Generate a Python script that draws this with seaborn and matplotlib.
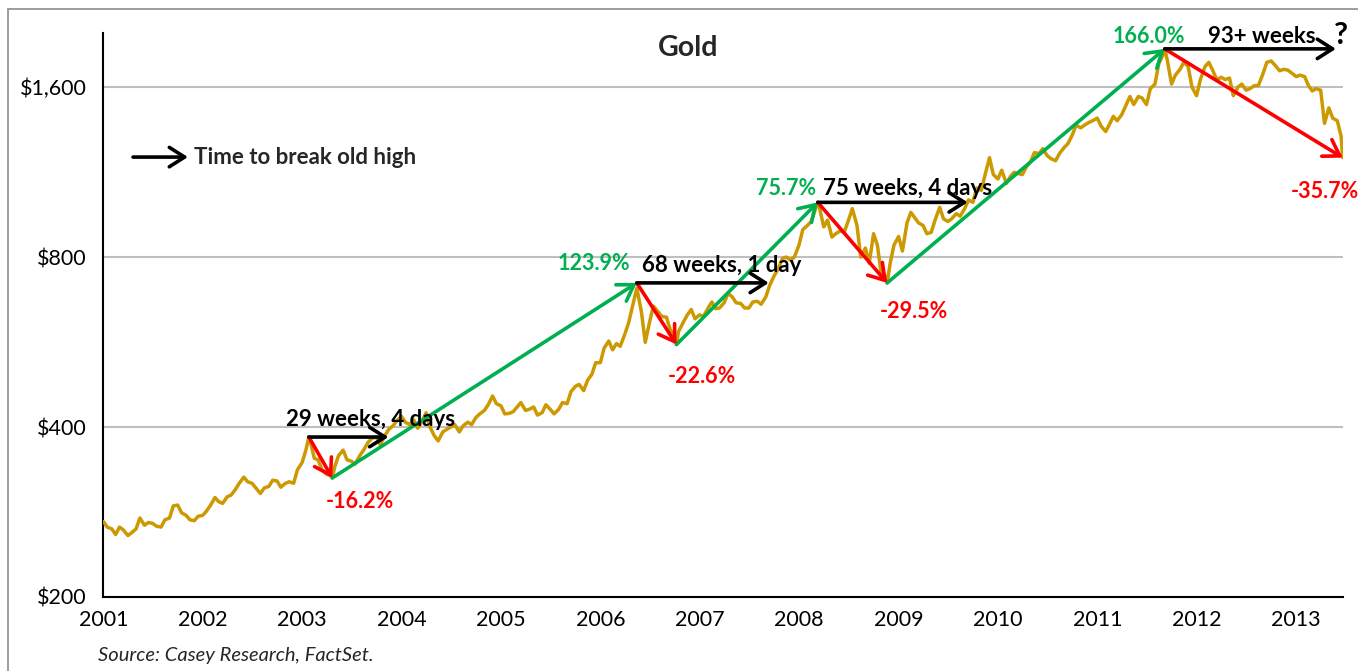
import pandas as pd
import matplotlib
matplotlib.use('Agg')
import matplotlib.pyplot as plt
import matplotlib.dates as mdates
from matplotlib.patches import Rectangle
from matplotlib.ticker import FixedLocator, NullLocator
import seaborn as sns

# Gold price, every half month (1st and 15th), Jan 2001 - Jun 2013
prices = [
    272, 266, 264, 258, 266, 263, 257, 260, 264, 276, 268, 271, 270, 267, 266, 274, 276, 290, 291, 282, 279, 274, 273, 278,
    279, 284, 292, 300, 295, 293, 301, 303, 310, 318, 326, 320, 318, 312, 305, 312, 314, 322, 321, 313, 318, 320, 318, 336,
    346, 364, 376, 352, 350, 336, 330, 328, 340, 356, 364, 350, 348, 344, 356, 364, 376, 382, 384, 372, 386, 396, 402, 410,
    418, 408, 404, 412, 398, 408, 424, 400, 386, 378, 392, 396, 400, 404, 392, 402, 408, 404, 416, 422, 428, 438, 454, 440,
    436, 422, 423, 426, 434, 442, 428, 430, 434, 420, 424, 438, 430, 422, 430, 442, 440, 462, 472, 476, 464, 484, 496, 520,
    520, 552, 568, 548, 562, 556, 584, 612, 660, 690, 640, 565, 614, 655, 640, 628, 626, 595, 575, 590, 612, 630, 646, 622,
    632, 628, 650, 666, 648, 650, 664, 690, 680, 664, 662, 650, 650, 666, 668, 660, 680, 712, 740, 760, 795, 800, 790, 800,
    840, 895, 910, 925, 972, 985, 905, 930, 868, 880, 890, 885, 930, 975, 910, 800, 830, 780, 880, 840, 730, 740, 780, 840,
    870, 820, 920, 960, 940, 920, 910, 880, 885, 930, 980, 935, 925, 935, 955, 945, 975, 1010, 1000, 1060, 1050, 1120, 1200, 1120,
    1100, 1140, 1080, 1110, 1130, 1125, 1120, 1155, 1180, 1225, 1220, 1245, 1210, 1195, 1185, 1220, 1250, 1270, 1315, 1370, 1355, 1370, 1385, 1395,
    1410, 1365, 1335, 1375, 1420, 1395, 1430, 1480, 1540, 1490, 1540, 1530, 1490, 1590, 1620, 1760, 1830, 1790, 1620, 1680, 1720, 1770, 1740, 1600,
    1545, 1650, 1740, 1770, 1710, 1650, 1665, 1650, 1660, 1545, 1600, 1620, 1580, 1590, 1610, 1610, 1690, 1770, 1780, 1750, 1710, 1720, 1715, 1695,
    1670, 1680, 1670, 1610, 1575, 1590, 1580, 1380, 1470, 1410, 1395, 1310,
]

# turning points used by the arrows
peak_dates = ['2003-01-26', '2006-05-15', '2008-03-10', '2011-09-06']
peak_prices = [384, 720, 1000, 1870]
trough_dates = ['2003-04-22', '2006-10-08', '2008-11-20', '2013-06-21']
trough_prices = [325, 560, 720, 1200]
recover_dates = ['2003-11-14', '2007-09-12', '2009-09-12', '2013-05-27']

time_labels = ['29 weeks, 4 days', '68 weeks, 1 day', '75 weeks, 4 days', '93+ weeks']
gain_labels = ['123.9%', '75.7%', '166.0%']
drop_labels = ['-16.2%', '-22.6%', '-29.5%', '-35.7%']

y_ticks = [200, 400, 800, 1600]
y_labels = ['$200', '$400', '$800', '$1,600']

GOLD = '#CC9900'
GREEN = '#00B050'
RED = '#FF0000'

sns.set_style('white')
plt.rcParams['font.family'] = ['Lato', 'DejaVu Sans']

dates = pd.date_range('2001-01-01', periods=len(prices), freq='SMS')
df = pd.DataFrame({'date': dates, 'price': prices})
keys = pd.DataFrame({'date': pd.to_datetime(peak_dates + trough_dates),
                     'price': peak_prices + trough_prices})
df = pd.concat([df, keys]).sort_values('date').reset_index(drop=True)

fig = plt.figure(figsize=(13.58, 6.71), dpi=100)
ax = fig.add_axes([103.4 / 1358, 1 - 597 / 671, 1239.6 / 1358, 564 / 671])
sns.lineplot(data=df, x='date', y='price', color=GOLD, lw=2.5, ax=ax, zorder=3)

ax.set_yscale('log')
ax.set_ylim(200, 1995)
ax.set_xlim(pd.Timestamp('2001-01-01'), pd.Timestamp('2013-06-22'))
ax.set_xlabel('')
ax.set_ylabel('')

ax.yaxis.set_major_locator(FixedLocator(y_ticks))
ax.yaxis.set_minor_locator(NullLocator())
ax.set_yticklabels(y_labels)
ax.xaxis.set_major_locator(mdates.YearLocator())
ax.xaxis.set_major_formatter(mdates.DateFormatter('%Y'))
ax.xaxis.set_minor_locator(mdates.MonthLocator(bymonth=7))

ax.tick_params(axis='x', which='major', direction='inout', length=12, width=1.3,
               labelsize=15.5, pad=3, colors='black')
ax.tick_params(axis='x', which='minor', direction='in', length=6, width=1.3)
ax.tick_params(axis='y', which='major', direction='out', length=5, width=1.3,
               labelsize=15.5, pad=7, colors='black')

ax.grid(axis='y', color='#BFBFBF', lw=1.5)
ax.grid(axis='x', visible=False)
ax.set_axisbelow(True)
for side in ['top', 'right']:
    ax.spines[side].set_visible(False)
for side in ['left', 'bottom']:
    ax.spines[side].set_color('black')
    ax.spines[side].set_linewidth(1.5)

def num(d):
    return mdates.date2num(pd.Timestamp(d))

def arrow(x0, y0, x1, y1, color):
    ax.annotate('', xy=(x1, y1), xytext=(x0, y0),
                arrowprops=dict(arrowstyle='->,head_length=0.55,head_width=0.35',
                                color=color, lw=2.6, shrinkA=0, shrinkB=0,
                                mutation_scale=20),
                zorder=5)

pk_x = [num(d) for d in peak_dates]
tr_x = [num(d) for d in trough_dates]
rc_x = [num(d) for d in recover_dates]

# rises: trough -> next peak
for i in range(3):
    arrow(tr_x[i], trough_prices[i], pk_x[i + 1], peak_prices[i + 1], GREEN)
# drops: peak -> trough
for i in range(4):
    arrow(pk_x[i], peak_prices[i], tr_x[i], trough_prices[i], RED)
# time to break the old high
for i in range(4):
    arrow(pk_x[i], peak_prices[i], rc_x[i], peak_prices[i], 'black')

txt = dict(fontweight='bold', textcoords='offset points', zorder=6)
time_off = [(-16.5, 8), (3.6, 8), (3.6, 5), (31, 4.3)]
for i in range(4):
    ax.annotate(time_labels[i], xy=(pk_x[i], peak_prices[i]), xytext=time_off[i],
                ha='left', va='baseline', color='black', fontsize=16, **txt)

gain_off = [(-5, 9.4), (-1.5, 5), (14.4, 4.3)]
for i in range(3):
    ax.annotate(gain_labels[i], xy=(pk_x[i + 1], peak_prices[i + 1]), xytext=gain_off[i],
                ha='right', va='baseline', color=GREEN, fontsize=15.5, **txt)

drop_off = [(20, -21.6), (18, -28), (19.4, -25.2), (-13, -28.8)]
for i in range(4):
    ax.annotate(drop_labels[i], xy=(tr_x[i], trough_prices[i]), xytext=drop_off[i],
                ha='center', va='baseline', color=RED, fontsize=15.5, **txt)

ax.annotate('?', xy=(rc_x[3], peak_prices[3]), xytext=(3.6, 3.6), ha='center',
            va='baseline', fontsize=22, fontweight='bold', color='black',
            textcoords='offset points', annotation_clip=False)

# legend arrow
ax.annotate('', xy=(0.0682, 0.78), xytext=(0.0239, 0.78), xycoords='axes fraction',
            arrowprops=dict(arrowstyle='->,head_length=0.55,head_width=0.35',
                            color='black', lw=2.6, shrinkA=0, shrinkB=0, mutation_scale=20))
ax.text(0.073, 0.78, 'Time to break old high', transform=ax.transAxes, ha='left',
        va='center', fontsize=16, fontweight='bold')

ax.text(0.4716, 0.973, 'Gold', transform=ax.transAxes, ha='center', va='center',
        fontsize=20.5, fontweight='bold')

fig.text(98 / 1358, 1 - 655 / 671, 'Source: Casey Research, FactSet.', ha='left',
         va='center', fontsize=14.5, fontstyle='italic')

fig.add_artist(Rectangle((8 / 1358, -0.1), 1.2, 1.1 - 9 / 671, transform=fig.transFigure,
                         fill=False, ec='#8C8C8C', lw=1.2))

fig.savefig('out.png', dpi=100)
